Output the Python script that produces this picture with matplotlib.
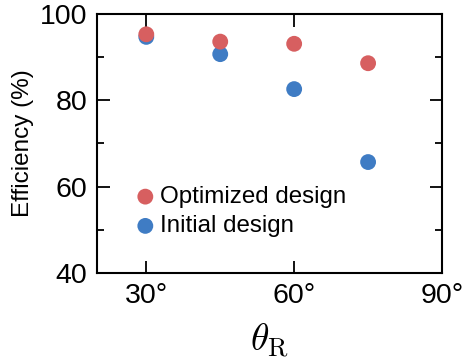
import matplotlib
matplotlib.use('Agg')
import matplotlib.pyplot as plt
from matplotlib.ticker import MultipleLocator

plt.rcParams['font.family'] = ['Liberation Sans', 'DejaVu Sans']
plt.rcParams['mathtext.fontset'] = 'cm'

angles = [30, 45, 60, 75]
optimized = [95.3, 93.6, 93.1, 88.6]
initial = [94.7, 90.7, 82.6, 65.7]
xticks = [30, 60, 90]
xticklabels = ['30°', '60°', '90°']
yticks = [40, 60, 80, 100]

fig = plt.figure(figsize=(4.65, 3.61), dpi=100)
ax = fig.add_axes([0.2086, 0.2438, 0.742, 0.7174])

ax.scatter(angles, initial, s=130, color='#3f7cc4', edgecolors='none', label='Initial design', zorder=3)
ax.scatter(angles, optimized, s=130, color='#d75f60', edgecolors='none', label='Optimized design', zorder=4)

ax.set_xlim(20, 90)
ax.set_ylim(40, 100)
ax.set_xticks(xticks)
ax.set_xticklabels(xticklabels)
ax.set_yticks(yticks)
ax.yaxis.set_minor_locator(MultipleLocator(10))
ax.tick_params(which='both', direction='in', top=True, right=True, width=1.3, labelsize=20.5, pad=7)
ax.tick_params(which='major', length=9)
ax.tick_params(which='minor', length=5)
for sp in ax.spines.values():
    sp.set_linewidth(1.5)

ax.set_ylabel('Efficiency (%)', fontsize=17.5, labelpad=4)
ax.set_xlabel(r'$\theta_{\mathrm{R}}$', fontsize=27, labelpad=9)

h, l = ax.get_legend_handles_labels()
ax.legend(h[::-1], l[::-1], frameon=False, loc='center left', bbox_to_anchor=(0.07, 0.237),
          fontsize=17.4, handletextpad=0.0, handlelength=1.2, labelspacing=0.3, borderaxespad=0)

fig.savefig('out.png', dpi=100)
